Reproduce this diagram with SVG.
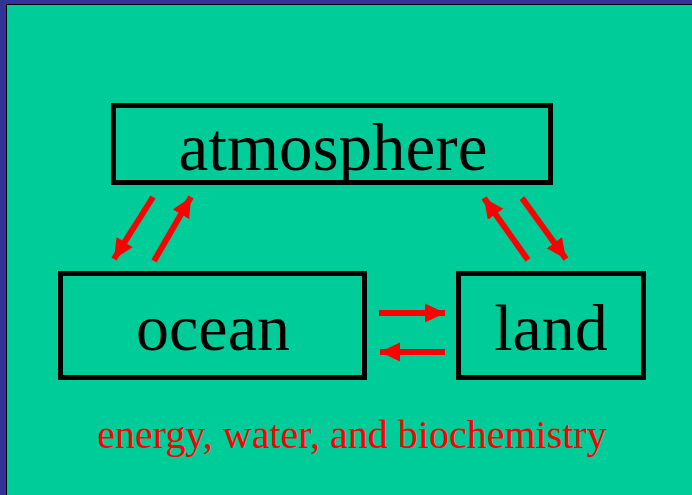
<svg xmlns="http://www.w3.org/2000/svg" width="692" height="495" viewBox="0 0 692 495">
<style>
.box{fill:none;stroke:#000;stroke-width:5}
.lbl{font-family:"Liberation Serif","Times New Roman",serif;font-size:66px;fill:#000;text-anchor:middle}
.arr{stroke:#ff0000;stroke-width:6;fill:none;marker-end:url(#ah)}
.cap{font-family:"Liberation Serif","Times New Roman",serif;font-size:40px;fill:#ff0000;text-anchor:middle}
</style>
<defs>
<marker id="ah" markerUnits="userSpaceOnUse" markerWidth="22" markerHeight="22" viewBox="0 0 22 22" refX="20" refY="11" orient="auto">
<path d="M0,1.5 L20,11 L0,20.5 Z" fill="#ff0000"/>
</marker>
</defs>
<rect x="0" y="0" width="692" height="495" fill="#333399"/>
<rect x="6" y="4" width="686" height="491" fill="#000"/>
<rect x="7" y="5" width="685" height="490" fill="#00cc99"/>
<g id="atmosphere"><rect class="box" x="113.5" y="105.5" width="437" height="77"/><text class="lbl" x="333" y="170" style="font-size:67px">atmosphere</text></g>
<g id="ocean"><rect class="box" x="60.5" y="273.5" width="304" height="104"/><text class="lbl" x="213" y="350">ocean</text></g>
<g id="land"><rect class="box" x="458.5" y="273.5" width="185" height="104"/><text class="lbl" x="551" y="350">land</text></g>
<g id="connectors">
<line class="arr" x1="153" y1="197" x2="114" y2="259"/>
<line class="arr" x1="154" y1="261" x2="191" y2="197"/>
<line class="arr" x1="528" y1="260" x2="484" y2="198"/>
<line class="arr" x1="522" y1="198" x2="566" y2="259"/>
<line class="arr" x1="379" y1="313" x2="445" y2="313"/>
<line class="arr" x1="445" y1="352" x2="380" y2="352"/>
</g>
<text class="cap" x="352" y="448">energy, water, and biochemistry</text>
</svg>
